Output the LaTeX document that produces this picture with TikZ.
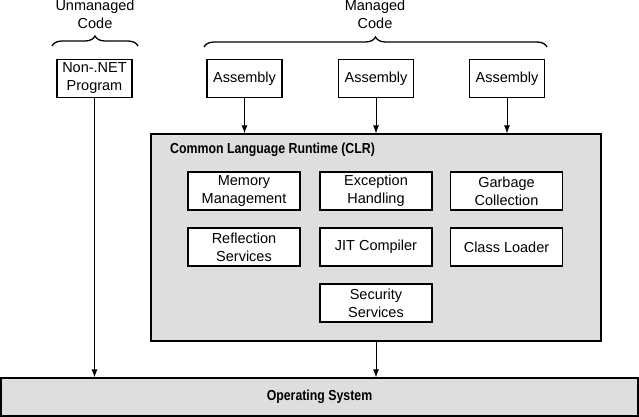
\documentclass[tikz,border=0pt]{standalone}
\usepackage{fontspec}
\setmainfont{Liberation Sans}
\newfontfamily\condbf{Liberation Sans Bold}[FakeStretch=0.85]
\usetikzlibrary{arrows.meta,decorations.pathreplacing}
\begin{document}
\begin{tikzpicture}[x=1pt,y=-1pt,
		every node/.style={font=\fontsize{14.5}{18}\selectfont},
		box/.style={draw, line width=1.2pt, fill=white, minimum width=75pt, minimum height=38pt, align=center, inner sep=0pt},
		part/.style={box, minimum width=112pt},
		layer/.style={draw, line width=1.2pt, fill=black!13, inner sep=0pt},
		arr/.style={-{Latex[length=8pt,width=6pt]}, line width=0.9pt},
		brc/.style={decorate, decoration={brace, amplitude=10pt}, line width=1.3pt}]
		\useasboundingbox (0,0) rectangle (639,417);
		% code kinds
		\node[align=center, inner sep=0pt, anchor=south] (unmanaged) at (95,28.5) {Unmanaged\\Code};
		\node[align=center, inner sep=0pt, anchor=south] (managed) at (375,28.5) {Managed\\Code};
		\draw[brc] (52,46) -- (138,46);
		\draw[brc] (204,47) -- (547,47);
		% programs
		\node[box] (nonnet) at (94.5,78.5) {Non-.NET\\Program};
		\node[box] (asm1) at (244.5,78.5) {Assembly};
		\node[box] (asm2) at (376,78.5) {Assembly};
		\node[box] (asm3) at (507,78.5) {Assembly};
		% runtime
		\node[layer, minimum width=450pt, minimum height=207pt] (clr) at (376,237.5) {};
		\node[anchor=base west, inner sep=0pt] (clrtitle) at (170,153) {\condbf Common Language Runtime (CLR)};
		\node[part] (memory) at (244,191) {Memory\\Management};
		\node[part] (exception) at (376,191) {Exception\\Handling};
		\node[part] (garbage) at (506.5,191) {Garbage\\Collection};
		\node[part] (reflection) at (244,247) {Reflection\\Services};
		\node[part] (jit) at (376,247) {JIT Compiler};
		\node[part] (loader) at (506.5,247) {Class Loader};
		\node[part] (security) at (376,303) {Security\\Services};
		% operating system
		\node[layer, minimum width=637pt, minimum height=38pt] (os) at (319.5,397) {\condbf Operating System};
		% connectors
		\draw[arr] (asm1) -- (asm1 |- clr.north);
		\draw[arr] (asm2) -- (asm2 |- clr.north);
		\draw[arr] (asm3) -- (asm3 |- clr.north);
		\draw[arr] (nonnet) -- (nonnet |- os.north);
		\draw[arr] (clr.south) -- (clr.south |- os.north);
	\end{tikzpicture}
\end{document}
